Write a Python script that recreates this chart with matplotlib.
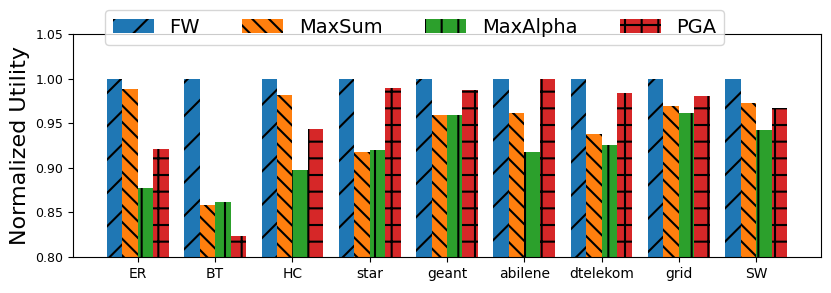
import numpy as np
import matplotlib.pyplot as plt

# Topologies and normalized utility per algorithm
topologies = ['ER', 'BT', 'HC', 'star', 'geant', 'abilene', 'dtelekom', 'grid', 'SW']
fw = [1.0, 1.0, 1.0, 1.0, 1.0, 1.0, 1.0, 1.0, 1.0]
maxsum = [0.988, 0.858, 0.982, 0.918, 0.959, 0.961, 0.938, 0.969, 0.973]
maxalpha = [0.877, 0.862, 0.897, 0.920, 0.959, 0.918, 0.926, 0.961, 0.942]
pga = [0.921, 0.824, 0.944, 0.990, 0.987, 0.999, 0.984, 0.981, 0.967]

series = [('FW', fw, '/'), ('MaxSum', maxsum, '\\\\'),
          ('MaxAlpha', maxalpha, '|'), ('PGA', pga, '+')]

plt.rcParams['hatch.linewidth'] = 1.5

fig = plt.figure(figsize=(8.31, 2.93), dpi=100)
ax = fig.add_axes([73 / 831, 1 - 257 / 293, 748 / 831, 223 / 293])

x = np.arange(len(topologies))
width = 0.2
for k, (name, vals, hatch) in enumerate(series):
    ax.bar(x + (k - 1.5) * width, vals, width, label=name, hatch=hatch)

ax.set_ylim(0.80, 1.05)
ax.set_yticks([0.80, 0.85, 0.90, 0.95, 1.00, 1.05])
ax.tick_params(axis='y', labelsize=9)
ax.set_xticks(x)
ax.set_xticklabels(topologies, fontsize=10)
ax.set_ylabel('Normalized Utility', fontsize=16)

fig.legend(loc='upper left', bbox_to_anchor=(105 / 831, 1 - 10 / 293),
           ncol=4, fontsize=14, borderaxespad=0,
           handlelength=2.1, columnspacing=2.2)

fig.savefig('out.png', dpi=100)
